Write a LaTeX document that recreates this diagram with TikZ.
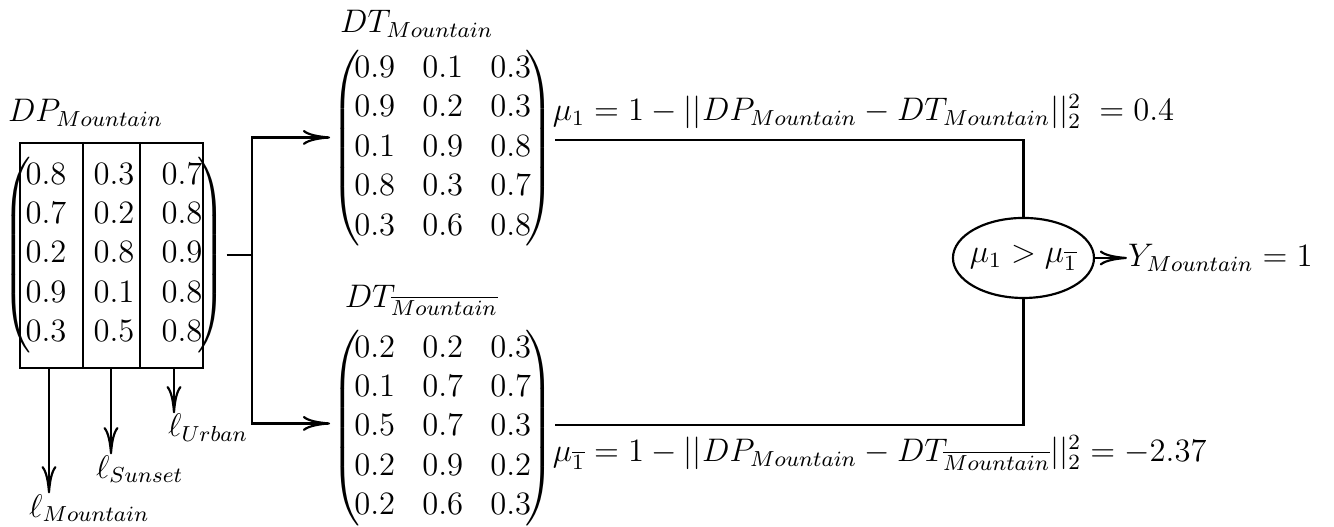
\documentclass[12pt,tikz,border=0pt]{standalone}
\usepackage{amsmath}
\usetikzlibrary{positioning}
\usetikzlibrary{shapes.geometric, arrows.meta}
\newcommand{\mmat}[1]{\left(\!\begin{matrix}#1\end{matrix}\!\right)}

\begin{document}
\begin{tikzpicture}[thick,>={To[length=10pt,width=5.5pt]},
  lbl/.style={anchor=base west,inner sep=0pt},
  mat/.style={inner sep=0pt}]
\useasboundingbox (0,0) rectangle (17.235,6.796);

\node[lbl] (dplab) at (0.09,5.22) {$DP_{Mountain}$};
\node[mat] (dpm) at (1.473,3.50) {$\mmat{
0.8 & 0.3 & 0.7\\ 0.7 & 0.2 & 0.8\\ 0.2 & 0.8 & 0.9\\ 0.9 & 0.1 & 0.8\\ 0.3 & 0.5 & 0.8}$};
\node[draw,minimum width=2.365cm,minimum height=2.907cm,inner sep=0pt] (dpbox) at (1.4405,3.4945) {};
\coordinate (c1) at (1.072,0);
\coordinate (c2) at (1.809,0);
\draw (c1 |- dpbox.north) -- (c1 |- dpbox.south);
\draw (c2 |- dpbox.north) -- (c2 |- dpbox.south);

\coordinate (aM) at (0.633,0);
\coordinate (aS) at (1.434,0);
\coordinate (aU) at (2.248,0);
\node[lbl] (lM) at (0.362,0.116) {$\ell_{Mountain}$};
\node[lbl] (lS) at (1.227,0.620) {$\ell_{Sunset}$};
\node[lbl] (lU) at (2.158,1.150) {$\ell_{Urban}$};
\draw[->] (aM |- dpbox.south) -- (aM |- lM.north);
\draw[->] (aS |- dpbox.south) -- (aS |- lS.north);
\draw[->] (aU |- dpbox.south) -- (aU |- lU.north);

\node[lbl] (dtmlab) at (4.38,6.37) {$DT_{Mountain}$};
\node[mat] (dtm) at (5.72,4.88) {$\mmat{
0.9 & 0.1 & 0.3\\ 0.9 & 0.2 & 0.3\\ 0.1 & 0.9 & 0.8\\ 0.8 & 0.3 & 0.7\\ 0.3 & 0.6 & 0.8}$};
\node[lbl] (dtnlab) at (4.44,2.829) {$DT_{\overline{Mountain}}$};
\node[mat] (dtn) at (5.72,1.265) {$\mmat{
0.2 & 0.2 & 0.3\\ 0.1 & 0.7 & 0.7\\ 0.5 & 0.7 & 0.3\\ 0.2 & 0.9 & 0.2\\ 0.2 & 0.6 & 0.3}$};

\coordinate (split) at (3.256,3.50);
\draw (dpm.east) -- (split);
\draw[->] (split) |- ([yshift=1.4mm]dtm.west);
\draw[->] (split) |- ([yshift=0.6mm]dtn.west);

\node[lbl] (mu1) at (7.13,5.24) {$\mu_1 = 1 - ||DP_{Mountain} - DT_{Mountain}||_2^2 \; = 0.4$};
\node[lbl] (mu2) at (7.13,0.83) {$\mu_{\overline{1}} = 1 - ||DP_{Mountain} - DT_{\overline{Mountain}}||_2^2 = -2.37$};

\node[ellipse,draw,minimum width=1.822cm,minimum height=1.034cm,inner xsep=-1.5pt,inner ysep=0pt] (cmp) at (13.223,3.463) {$\mu_1 > \mu_{\overline{1}}$};
\draw ([yshift=1.1mm]dtm.east) -| (cmp.north);
\draw ([yshift=0.4mm]dtn.east) -| (cmp.south);
\node[anchor=west,inner sep=0pt] (ym) at (14.56,3.463) {$Y_{Mountain} = 1$};
\draw[->] (cmp) -- (ym);

\end{tikzpicture}
\end{document}
